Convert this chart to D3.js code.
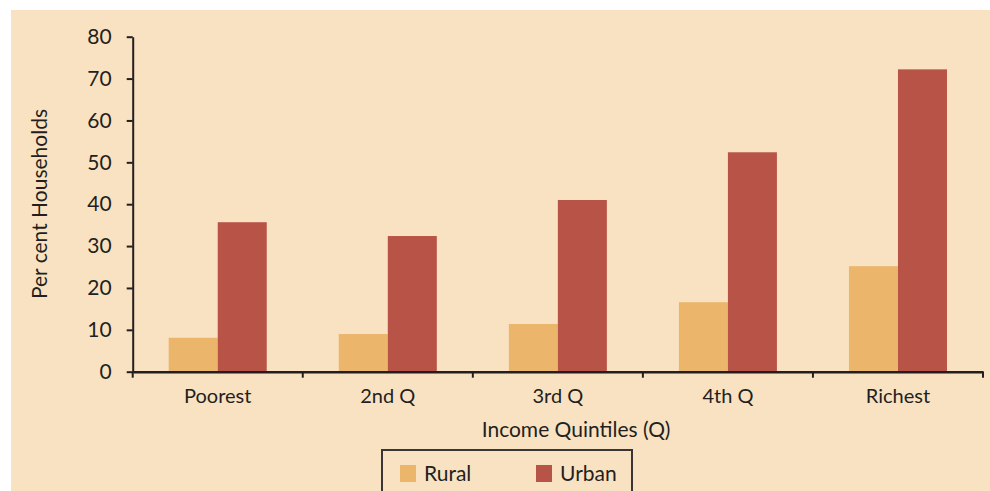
<!DOCTYPE html>
<html>
<head>
<meta charset="utf-8">
<script src="https://cdn.jsdelivr.net/npm/d3@7"></script>
<style>
  html, body { margin: 0; padding: 0; background: #ffffff; }
  svg { display: block; }
  text { font-family: Lato, "Open Sans", sans-serif; fill: #231f20; }
</style>
</head>
<body>
<svg id="chart" width="990" height="491"></svg>
<script>
const categories = ["Poorest", "2nd Q", "3rd Q", "4th Q", "Richest"];
const seriesNames = ["Rural", "Urban"];
const rural = [8.1, 9.0, 11.4, 16.6, 25.2];
const urban = [35.7, 32.4, 41.0, 52.4, 72.2];
const yTicks = [0, 10, 20, 30, 40, 50, 60, 70, 80];
const colors = { Rural: "#EBB66C", Urban: "#B85447" };

(function () {
const svg = d3.select("#chart");
const ink = "#231f20";

svg.append("rect").attr("x", 11).attr("y", 10).attr("width", 979).attr("height", 481).attr("fill", "#F9E2C2");

const mLeft = 132.7, mRight = 983, mTop = 36.7, mBottom = 371.7;
const x = d3.scaleBand().domain(categories).range([mLeft, mRight]).paddingInner(0).paddingOuter(0);
const xs = d3.scaleBand().domain(seriesNames).range([0, x.bandwidth()]).paddingInner(0).paddingOuter(0.7347);
const y = d3.scaleLinear().domain([0, 80]).range([mBottom, mTop]);

const data = categories.map((c, i) => ({ cat: c, Rural: rural[i], Urban: urban[i] }));

// bars
const g = svg.append("g");
data.forEach(d => {
  seriesNames.forEach(s => {
    g.append("rect")
      .attr("x", x(d.cat) + xs(s))
      .attr("y", y(d[s]))
      .attr("width", xs.bandwidth())
      .attr("height", y(0) - y(d[s]))
      .attr("fill", colors[s]);
  });
});

// y axis
const yAxis = svg.append("g").attr("transform", `translate(${mLeft},0)`)
  .call(d3.axisLeft(y).tickValues(yTicks).tickSize(6).tickSizeOuter(0).tickPadding(15));
yAxis.selectAll("path, line").attr("stroke", ink).attr("stroke-width", 2);
yAxis.selectAll("text").attr("font-size", 21).style("font-family", "Lato, sans-serif").attr("fill", ink);

// x axis
const xAxis = svg.append("g").attr("transform", `translate(0,${mBottom})`)
  .call(d3.axisBottom(x).tickSize(0).tickSizeOuter(0).tickPadding(17));
xAxis.select("path").attr("stroke", ink).attr("stroke-width", 2.4);
xAxis.selectAll("text").attr("font-size", 20).style("font-family", "Lato, sans-serif").attr("fill", ink);
const boundaries = categories.map(c => x(c)).concat([x.range()[1]]);
xAxis.selectAll("line.bnd").data(boundaries).enter().append("line")
  .attr("class", "bnd")
  .attr("x1", d => d).attr("x2", d => d).attr("y1", 0).attr("y2", 6)
  .attr("stroke", ink).attr("stroke-width", 2);

// axis titles
svg.append("text").attr("x", 576).attr("y", 437)
  .attr("text-anchor", "middle").attr("font-size", 21).text("Income Quintiles (Q)");
svg.append("text").attr("transform", `translate(47,204) rotate(-90)`)
  .attr("text-anchor", "middle").attr("font-size", 21).text("Per cent Households");

// legend
const lg = svg.append("g");
lg.append("rect").attr("x", 382).attr("y", 450).attr("width", 250).attr("height", 60)
  .attr("fill", "none").attr("stroke", "#3a3434").attr("stroke-width", 2);
const legendX = [400, 536];
seriesNames.forEach((s, i) => {
  lg.append("rect").attr("x", legendX[i]).attr("y", 465).attr("width", 16).attr("height", 17).attr("fill", colors[s]);
  lg.append("text").attr("x", legendX[i] + 24).attr("y", 481).attr("font-size", 21).text(s);
});
})();
</script>
</body>
</html>
